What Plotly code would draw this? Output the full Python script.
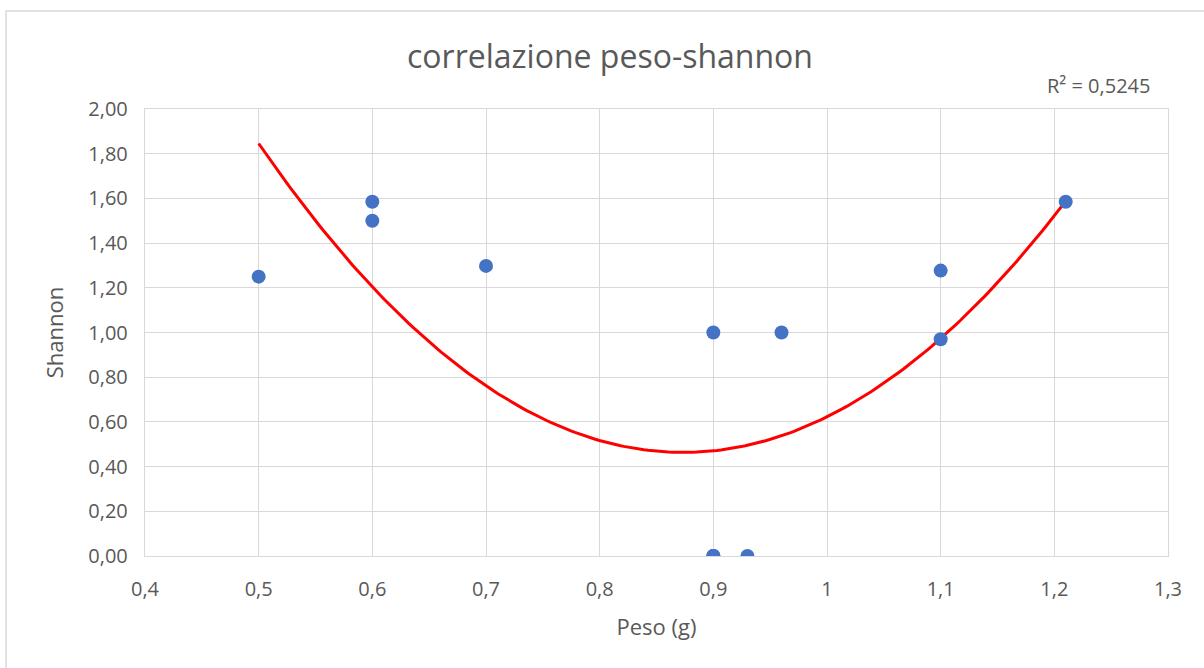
import numpy as np
import plotly.graph_objects as go

peso = [0.5, 0.6, 0.6, 0.7, 0.9, 0.9, 0.9, 0.9, 0.93, 0.96, 1.1, 1.1, 1.21]
shannon = [1.25, 1.585, 1.5, 1.298, 1.0, 0.0, 0.0, 0.0, 0.0, 1.0, 1.277, 0.97, 1.585]
x_ticks = [0.4, 0.5, 0.6, 0.7, 0.8, 0.9, 1.0, 1.1, 1.2, 1.3]
y_ticks = [0.0, 0.2, 0.4, 0.6, 0.8, 1.0, 1.2, 1.4, 1.6, 1.8, 2.0]
r2_text = "R² = 0,5245"
title_text = "correlazione peso-shannon"
x_title = "Peso (g)"
y_title = "Shannon"

# second-order polynomial trendline fitted to the data
coef = np.polyfit(peso, shannon, 2)
xf = np.linspace(min(peso), max(peso), 200)
yf = np.polyval(coef, xf)

W, H = 1204, 668
L, R, T, B = 145, 1168, 109, 556
grey = "#595959"
gridc = "#D9D9D9"
font = "Open Sans"

fig = go.Figure()
fig.add_trace(go.Scatter(x=xf, y=yf, mode="lines",
                         line=dict(color="#FF0000", width=3), hoverinfo="skip"))
fig.add_trace(go.Scatter(x=peso, y=shannon, mode="markers",
                         marker=dict(color="#4472C4", size=14)))

pw, ph = R - L, B - T
def px(xp): return (xp - L) / pw
def py(yp): return (B - yp) / ph

# chart-area border
fig.add_shape(type="rect", xref="paper", yref="paper",
              x0=px(6), x1=px(1215), y0=py(690), y1=py(11),
              line=dict(color=gridc, width=1.5), layer="below")

fig.update_layout(
    width=W, height=H,
    margin=dict(l=L, r=W - R, t=T, b=H - B),
    paper_bgcolor="white", plot_bgcolor="white",
    separators=",.",
    showlegend=False,
    font=dict(family=font, color=grey, size=20),
    title=dict(text=title_text, x=610 / W, xanchor="center",
               y=1 - 57 / H, yanchor="middle",
               font=dict(size=32, color=grey, family=font)),
    xaxis=dict(range=[0.4, 1.3], tickvals=x_ticks, showgrid=True,
               gridcolor=gridc, gridwidth=1.4, zeroline=False,
               showline=True, linecolor=gridc, linewidth=1.4, mirror=True,
               ticks="outside", ticklen=15, tickcolor="rgba(0,0,0,0)",
               tickfont=dict(size=20, color=grey),
               title=dict(text=x_title, font=dict(size=22, color=grey), standoff=18)),
    yaxis=dict(range=[0, 2], tickvals=y_ticks, tickformat=".2f", showgrid=True,
               gridcolor=gridc, gridwidth=1.4, zeroline=False,
               showline=True, linecolor=gridc, linewidth=1.4, mirror=True,
               ticks="outside", ticklen=12, tickcolor="rgba(0,0,0,0)",
               tickfont=dict(size=20, color=grey),
               title=dict(text=y_title, font=dict(size=22, color=grey), standoff=18)),
    annotations=[dict(text=r2_text, xref="paper", yref="paper",
                      x=px(1098), y=py(85), xanchor="center", yanchor="middle",
                      showarrow=False, font=dict(size=20, color=grey))],
)

fig.write_html("out.html", config={"displayModeBar": False},
               post_script="document.body.style.margin='0px';")
